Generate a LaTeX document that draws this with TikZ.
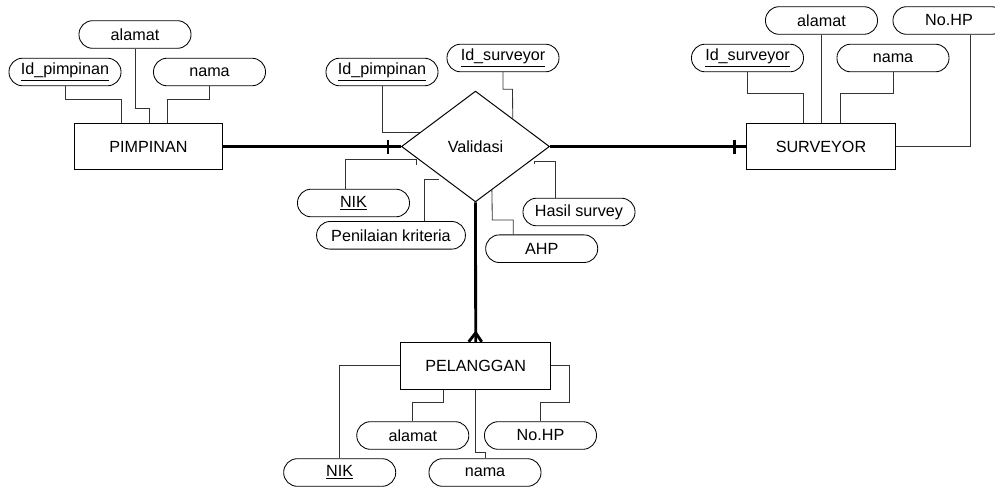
\documentclass[tikz,border=0pt]{standalone}
\usepackage{fontspec}
\setmainfont{Liberation Sans}
\usetikzlibrary{shapes.geometric,calc}
\begin{document}
\begin{tikzpicture}[x=0.025cm, y=-0.025cm]
        \tikzstyle{every node} = [font=\fontsize{11.5}{13}\selectfont, inner sep=0pt]
        \tikzstyle{entity} = [draw, line width=0.7pt, rectangle, minimum width=3.72cm, minimum height=1.17cm]
        \tikzstyle{attr} = [draw, line width=0.6pt, rectangle, rounded corners=0.34cm, minimum width=2.8cm, minimum height=0.69cm]
        \tikzstyle{rel} = [draw, line width=0.7pt, diamond, minimum width=3.7cm, minimum height=2.77cm]
        \tikzstyle{link} = [line width=0.6pt, black!80]
        \tikzstyle{main} = [line width=2pt]
        \useasboundingbox (0,0) rectangle (995,488);

        \node[entity](pimpinan) at (148.5,146.5){PIMPINAN};
        \node[entity](surveyor) at (821,146.5){SURVEYOR};
        \node[entity, minimum width=3.75cm](pelanggan) at (475.7,365.7){PELANGGAN};
        \node[rel](validasi) at (475.5,146.5){Validasi};

        \node[attr](pimAlamat) at (135,34.5){alamat};
        \node[attr](pimId) at (65,72){\underline{Id\_pimpinan}};
        \node[attr](pimNama) at (209.5,72){nama};

        \node[attr](svAlamat) at (821.5,20.5){alamat};
        \node[attr](svHp) at (949,20.5){No.HP};
        \node[attr](svId) at (747.5,58){\underline{Id\_surveyor}};
        \node[attr](svNama) at (893,58){nama};

        \node[attr](vPimId) at (382,72){\underline{Id\_pimpinan}};
        \node[attr](vSvId) at (503,58){\underline{Id\_surveyor}};
        \node[attr](vNik) at (353.5,203){\underline{NIK}};
        \node[attr, minimum width=3.72cm](vNilai) at (391,235.3){Penilaian kriteria};
        \node[attr](vHasil) at (579,212){Hasil survey};
        \node[attr](vAhp) at (541.7,248.7){AHP};

        \node[attr](pAlamat) at (412.8,435.5){alamat};
        \node[attr](pHp) at (540.5,435.5){No.HP};
        \node[attr](pNik) at (339.7,472.5){\underline{NIK}};
        \node[attr](pNama) at (485,472.5){nama};

        \draw[link] (pimId.south) |- (121,99) -- (121,0 |- pimpinan.north);
        \draw[link] (pimAlamat.south) |- (149,108) -- (149,0 |- pimpinan.north);
        \draw[link] (pimNama.south) |- (167,99) -- (167,0 |- pimpinan.north);

        \draw[link] (svId.south) |- (803,93) -- (803,0 |- surveyor.north);
        \draw[link] (svAlamat.south) -- (svAlamat.south |- surveyor.north);
        \draw[link] (svNama.south) |- (840,93) -- (840,0 |- surveyor.north);
        \draw[link] (surveyor.east) -| (970,0 |- svHp.south);

        \draw[link] (vPimId.south) |- ($(validasi.west)!0.25!(validasi.north)$);
        \draw[link] (vSvId.south) |- (512.5,89.3) -- ($(validasi.north)!0.5!(validasi.east)$);
        \draw[link] (345,0 |- vNik.north) |- (416.7,159) -- ++(0,6);
        \draw[link] (424.3,0 |- vNilai.north) |- (439,179.3);
        \draw[link] (555,0 |- vHasil.north) |- (534.3,161) -- ++(0,3);
        \draw[link] (513.3,0 |- vAhp.north) |- (492.3,220) -- ($(validasi.south)!0.22!(validasi.east)$);

        \draw[link] (pNik.north) |- (pelanggan.west);
        \draw[link] (pAlamat.north) |- (443.3,402.3) -- (443.3,0 |- pelanggan.south);
        \draw[link] (pNama.north) |- (475.7,452.7) -- (475.7,0 |- pelanggan.south);
        \draw[link] (pHp.north) |- (569,402.3) |- (pelanggan.east);

        \draw[main] (pimpinan.east) -- (validasi.west);
        \draw[main] ($(validasi.west)+(-13,-7)$) -- ($(validasi.west)+(-13,7)$);
        \draw[main] (validasi.east) -- (surveyor.west);
        \draw[main] ($(surveyor.west)+(-12,-7)$) -- ($(surveyor.west)+(-12,7)$);
        \draw[main] (validasi.south) -- (pelanggan.north);
        \draw[main] ($(pelanggan.north)+(0,-9)$) -- ($(pelanggan.north)+(-7,0)$);
        \draw[main] ($(pelanggan.north)+(0,-9)$) -- ($(pelanggan.north)+(6,0)$);
\end{tikzpicture}
\end{document}
